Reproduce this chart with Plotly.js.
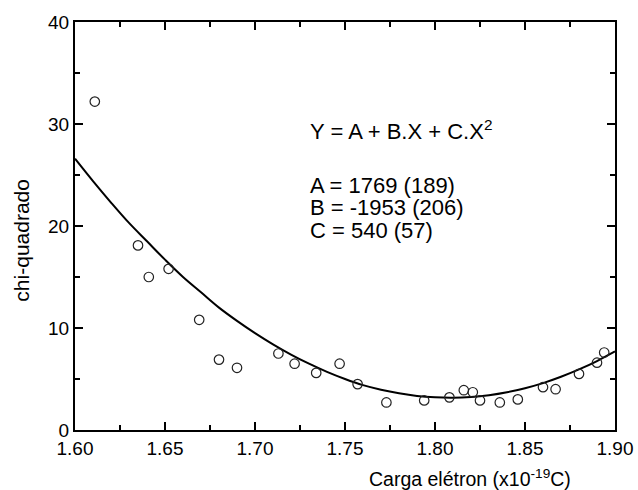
<!DOCTYPE html>
<html>
<head>
<meta charset="utf-8">
<script src="https://cdn.plot.ly/plotly-3.0.1.min.js"></script>
<style>html,body{margin:0;padding:0;background:#fff;}#chart{width:638px;height:490px;}</style>
</head>
<body>
<div id="chart"></div>
<script>
// Measured points (x in 1e-19 C, chi-squared)
var pointsX = [1.611, 1.635, 1.641, 1.652, 1.669, 1.680, 1.690, 1.713, 1.722, 1.734, 1.747, 1.757, 1.773, 1.794,
               1.808, 1.816, 1.821, 1.825, 1.836, 1.846, 1.860, 1.867, 1.880, 1.890, 1.894];
var pointsY = [32.2, 18.1, 15.0, 15.8, 10.8, 6.9, 6.1, 7.5, 6.5, 5.6, 6.5, 4.5, 2.7, 2.9,
               3.2, 3.9, 3.7, 2.9, 2.7, 3.0, 4.2, 4.0, 5.5, 6.6, 7.6];

// Fit curve
var fitX = [1.60, 1.61, 1.62, 1.63, 1.64, 1.65, 1.66, 1.67, 1.68, 1.69, 1.70, 1.71, 1.72, 1.73, 1.74, 1.75,
            1.76, 1.77, 1.78, 1.79, 1.80, 1.81, 1.82, 1.83, 1.84, 1.85, 1.86, 1.87, 1.88, 1.89, 1.90];
var fitY = [26.6, 24.4, 22.3, 20.3, 18.5, 16.7, 15.0, 13.5, 12.0, 10.7, 9.5, 8.4, 7.4, 6.5, 5.7, 5.0,
            4.4, 3.95, 3.6, 3.34, 3.2, 3.16, 3.23, 3.41, 3.70, 4.10, 4.60, 5.22, 5.94, 6.76, 7.70];

var xTitle = 'Carga elétron (x10<sup>-19</sup>C)';
var yTitle = 'chi-quadrado';
var fitLines = ['Y = A + B.X + C.X<sup>2</sup>', 'A = 1769 (189)', 'B = -1953 (206)', 'C = 540 (57)'];

var FONT = 'Arial, "Liberation Sans", sans-serif';

var traces = [
  {x: fitX, y: fitY, mode: 'lines', line: {color: '#000', width: 2, shape: 'spline'}, hoverinfo: 'skip'},
  {x: pointsX, y: pointsY, mode: 'markers',
   marker: {symbol: 'circle-open', size: 9.5, color: '#222', line: {width: 1.2, color: '#222'}}}
];

var axisCommon = {
  showgrid: false, zeroline: false, showline: true, linecolor: '#000', linewidth: 2,
  mirror: 'ticks', ticks: 'inside', ticklen: 8, tickwidth: 2, tickcolor: '#000',
  tickfont: {family: FONT, size: 19, color: '#000'}
};

var layout = {
  width: 638, height: 490,
  margin: {l: 75, r: 22.5, t: 22, b: 60},
  paper_bgcolor: '#fff', plot_bgcolor: '#fff',
  showlegend: false,
  xaxis: Object.assign({}, axisCommon, {
    range: [1.6, 1.9], dtick: 0.05, tick0: 1.6, tickformat: '.2f',
    minor: {dtick: 0.025, ticks: 'inside', ticklen: 5, tickwidth: 2, tickcolor: '#000'}
  }),
  yaxis: Object.assign({}, axisCommon, {
    range: [0, 40], dtick: 10, tick0: 0,
    minor: {dtick: 5, ticks: 'inside', ticklen: 5, tickwidth: 2, tickcolor: '#000'}
  }),
  annotations: [
    {text: xTitle, xref: 'paper', yref: 'paper', x: 0.731, y: -0.118, xanchor: 'center', yanchor: 'middle',
     showarrow: false, font: {family: FONT, size: 19.5, color: '#000'}},
    {text: yTitle, xref: 'paper', yref: 'paper', x: -0.0986, y: 0.466, xanchor: 'center', yanchor: 'middle',
     textangle: -90, showarrow: false, font: {family: FONT, size: 21, color: '#000'}},
    {text: fitLines[0], xref: 'paper', yref: 'paper', x: 0.432, y: 0.736, xanchor: 'left', yanchor: 'middle',
     showarrow: false, font: {family: FONT, size: 22, color: '#000'}},
    {text: fitLines[1], xref: 'paper', yref: 'paper', x: 0.432, y: 0.600, xanchor: 'left', yanchor: 'middle',
     showarrow: false, font: {family: FONT, size: 22, color: '#000'}},
    {text: fitLines[2], xref: 'paper', yref: 'paper', x: 0.432, y: 0.546, xanchor: 'left', yanchor: 'middle',
     showarrow: false, font: {family: FONT, size: 22, color: '#000'}},
    {text: fitLines[3], xref: 'paper', yref: 'paper', x: 0.432, y: 0.490, xanchor: 'left', yanchor: 'middle',
     showarrow: false, font: {family: FONT, size: 22, color: '#000'}}
  ]
};

Plotly.newPlot('chart', traces, layout, {displayModeBar: false, staticPlot: true});
</script>
</body>
</html>
